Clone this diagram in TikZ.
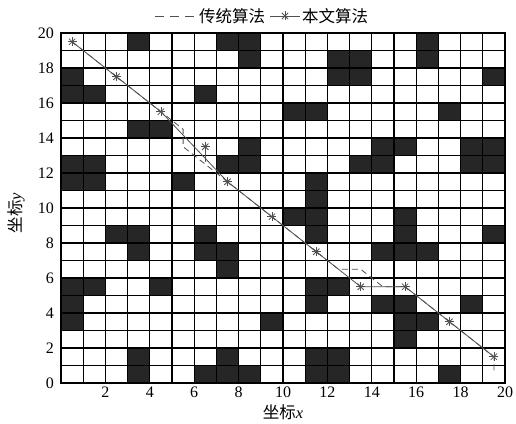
\documentclass[tikz,border=0pt]{standalone}
\usepackage{fontspec}
\setmainfont{Liberation Serif}
\newfontfamily\cjk{Noto Sans CJK SC}
\definecolor{obstcol}{HTML}{262626}
\definecolor{pathcol}{HTML}{505050}
\tikzset{
  obst/.style={fill=obstcol},
  gridline/.style={draw=black, line width=1.1pt},
  solidpath/.style={draw=pathcol, line width=0.8pt, line join=round},
  dashpath/.style={draw=pathcol, line width=0.8pt, dash pattern=on 6pt off 4pt},
  legdash/.style={draw=pathcol, line width=0.9pt, dash pattern=on 9pt off 6pt},
  starmark/.style={inner sep=0pt, minimum size=10pt,
    path picture={\foreach \a in {0,45,90,135}{\draw[pathcol, line width=0.8pt]
      (path picture bounding box.center) ++(\a:4.5pt) -- ++(\a+180:9pt);}}},
  ticklab/.style={inner sep=0pt, font=\fontsize{16}{18}\selectfont},
  titlelab/.style={inner sep=0pt, font=\fontsize{16.5}{18}\selectfont},
}
\begin{document}
\begin{tikzpicture}[x=22.2pt, y=17.5pt]
\useasboundingbox[fill=white] (-61pt,-40pt) rectangle (455pt,383pt);
% obstacles
\foreach \c/\r in {3/19,7/19,8/19,16/19,
  8/18,12/18,13/18,16/18,
  0/17,12/17,13/17,19/17,
  0/16,1/16,6/16,
  10/15,11/15,17/15,
  3/14,4/14,
  8/13,14/13,15/13,18/13,19/13,
  0/12,1/12,7/12,8/12,13/12,14/12,18/12,19/12,
  0/11,1/11,5/11,11/11,
  11/10,
  10/9,11/9,15/9,
  2/8,3/8,6/8,11/8,15/8,19/8,
  3/7,6/7,7/7,14/7,15/7,16/7,
  7/6,
  0/5,1/5,4/5,11/5,12/5,
  0/4,11/4,14/4,15/4,18/4,
  0/3,9/3,15/3,16/3,
  15/2,
  3/1,7/1,11/1,12/1,
  3/0,6/0,7/0,8/0,11/0,12/0,17/0}
  \fill[obst] (\c,\r) rectangle ++(1,1);
% grid
\foreach \k in {0,...,20} {
  \draw[gridline] (\k,0) -- (\k,20);
  \draw[gridline] (0,\k) -- (20,\k);
}
\draw[gridline] (0,0) rectangle (20,20);
% tick labels
\foreach \k in {0,2,...,20} \node[ticklab, anchor=east] at ([xshift=-7pt]0,\k) {\k};
\foreach \k in {2,4,...,20} \node[ticklab, anchor=north] at ([yshift=-4pt]\k,0) {\k};
% axis titles
\node[titlelab] (xt) at ([yshift=-29pt]10,0) {{\cjk 坐标}\textit{x}};
\node[titlelab, rotate=90] (yt) at ([xshift=-45pt]0,9.7) {{\cjk 坐标}\textit{y}};
% path nodes
\node[starmark] (s1) at (0.5,19.5) {};
\node[starmark] (s2) at (2.5,17.5) {};
\node[starmark] (s3) at (4.5,15.5) {};
\node[starmark] (s4) at (6.5,13.5) {};
\node[starmark] (s5) at (7.5,11.5) {};
\node[starmark] (s6) at (9.5,9.5) {};
\node[starmark] (s7) at (11.5,7.5) {};
\node[starmark] (s8) at (13.5,5.5) {};
\node[starmark] (s9) at (15.5,5.5) {};
\node[starmark] (s10) at (17.5,3.5) {};
\node[starmark] (s11) at (19.5,1.5) {};
\coordinate (t1) at (5.5,14.5);
\coordinate (t2) at (5.5,13.5);
\coordinate (t3) at (12.5,6.5);
\coordinate (t4) at (13.5,6.5);
\coordinate (t5) at (14.5,5.5);
\coordinate (g) at (19.5,0.5);
\coordinate (c1) at (6.5,12.6);
% traditional path (dashed)
\draw[dashpath] (s1.center) -- (t1) -- (t2) -- (t3) -- (t4) -- (t5) -- (s9.center) -- (s11.center) -- (g);
% proposed path (solid)
\draw[solidpath] (s1.center) -- (s3.center) -- (s5.center) -- (s8.center) -- (s9.center) -- (s11.center);
\draw[solidpath] (s4.center) -- (c1);
% legend
\coordinate (l1a) at (94pt,367pt);
\coordinate (l1b) at (136pt,367pt);
\draw[legdash] (l1a) -- (l1b);
\node[titlelab, anchor=west] (lt1) at (138pt,367pt) {\cjk 传统算法};
\coordinate (l2a) at (209pt,367pt);
\coordinate (l2b) at (239pt,367pt);
\draw[solidpath] (l2a) -- (l2b);
\node[starmark] (l2s) at (224pt,367pt) {};
\node[titlelab, anchor=west] (lt2) at (241pt,367pt) {\cjk 本文算法};
\end{tikzpicture}
\end{document}
